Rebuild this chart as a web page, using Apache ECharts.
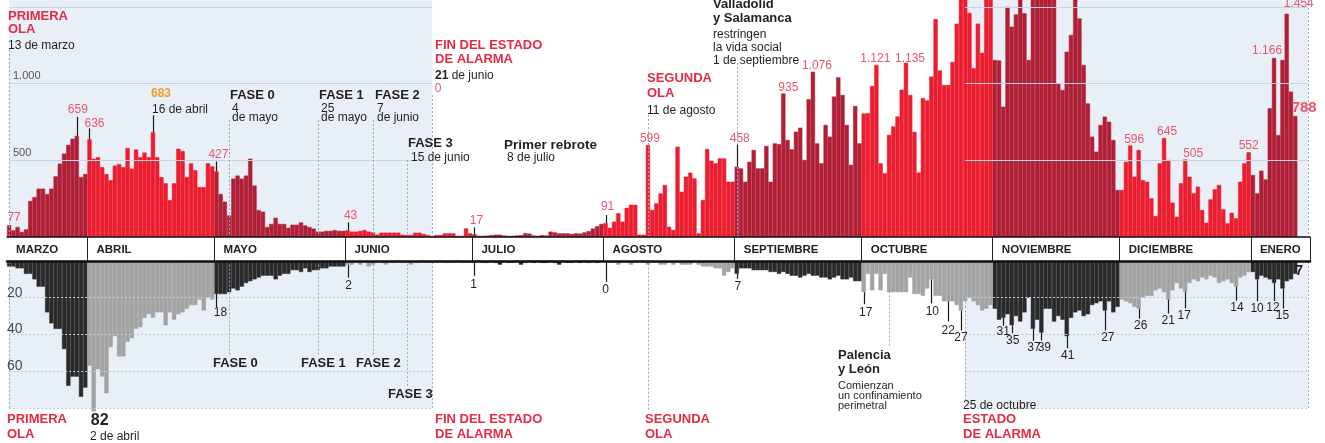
<!DOCTYPE html>
<html>
<head>
<meta charset="utf-8">
<script src="https://cdn.jsdelivr.net/npm/echarts@6/dist/echarts.min.js"></script>
<style>
html, body { margin: 0; background: #fff; }
#chart { width: 1325px; height: 443px; }
</style>
</head>
<body>
<div id="chart"></div>
<script>
// casos diarios (arriba) y fallecidos (abajo), 13 de marzo 2020 - 11 de enero 2021
const mesesNombre = ["MARZO", "ABRIL", "MAYO", "JUNIO", "JULIO", "AGOSTO", "SEPTIEMBRE", "OCTUBRE", "NOVIEMBRE", "DICIEMBRE", "ENERO"]
const mesesNum = [3, 4, 5, 6, 7, 8, 9, 10, 11, 12, 1]
const diaInicio = 13

const casosMar = [77, 43, 65, 33, 50, 235, 260, 315, 315, 280, 315, 395, 478, 543, 600, 640, 659, 390, 410]
const casosAbr = [636, 510, 520, 455, 410, 370, 465, 475, 455, 580, 445, 570, 520, 550, 520, 683, 520, 390, 350, 240, 350, 575, 560, 390, 480, 435, 325, 325, 480, 460]
const casosMay = [427, 280, 230, 140, 380, 400, 380, 400, 510, 335, 175, 165, 65, 85, 125, 85, 85, 60, 80, 80, 95, 75, 65, 55, 35, 35, 40, 40, 45, 40, 40]
const casosJun = [43, 35, 35, 40, 45, 35, 30, 15, 28, 28, 28, 28, 28, 15, 13, 13, 28, 28, 20, 13, 0, 13, 13, 24, 24, 24, 8, 8, 56, 24]
const casosJul = [17, 8, 8, 9, 12, 15, 15, 10, 8, 8, 10, 12, 25, 22, 10, 8, 12, 10, 35, 30, 24, 24, 24, 20, 24, 22, 30, 38, 55, 70, 85]
const casosAgo = [91, 60, 100, 155, 100, 190, 210, 210, 15, 15, 599, 176, 219, 284, 339, 67, 46, 588, 295, 393, 419, 382, 24, 241, 573, 497, 480, 512, 512, 360, 360]
const casosSep = [458, 447, 360, 490, 567, 447, 447, 593, 360, 610, 605, 935, 632, 571, 686, 712, 502, 897, 1076, 610, 480, 730, 654, 915, 1040, 925, 730, 470, 853, 610]
const casosOct = [805, 805, 983, 1121, 480, 415, 665, 720, 785, 960, 1135, 925, 685, 420, 905, 890, 1045, 1420, 1085, 990, 990, 1140, 1390, 1600, 1620, 1460, 1100, 1390, 1200, 1650, 1700]
const casosNov = [1153, 1150, 849, 1500, 1370, 1450, 1600, 1457, 1153, 1650, 1750, 1800, 1700, 1650, 1600, 1000, 958, 1207, 1316, 1600, 1424, 1120, 870, 654, 556, 730, 784, 751, 632, 306]
const casosDic = [306, 490, 596, 393, 567, 371, 360, 252, 137, 480, 645, 502, 224, 132, 350, 505, 393, 284, 328, 176, 93, 245, 311, 339, 180, 89, 158, 122, 360, 480, 552]
const casosEne = [404, 284, 432, 375, 838, 1166, 664, 1153, 1454, 947, 788]

const muertesMar = [3, 3, 4, 4, 7, 7, 10, 14, 14, 28, 34, 37, 37, 48, 68, 63, 63, 74, 69]
const muertesAbr = [57, 82, 59, 63, 72, 47, 41, 52, 52, 44, 42, 37, 36, 31, 29, 31, 28, 28, 35, 28, 32, 29, 28, 26, 24, 24, 21, 27, 20, 21]
const muertesMay = [18, 18, 18, 17, 15, 16, 14, 12, 11, 10, 9, 8, 8, 8, 10, 8, 7, 7, 5, 5, 6, 4, 6, 5, 5, 4, 4, 3, 3, 3, 3]
const muertesJun = [2, 2, 1, 2, 1, 3, 2, 1, 1, 2, 1, 1, 0, 1, 1, 2, 1, 1, 0, 1, 1, 1, 0, 1, 1, 1, 0, 1, 1, 1]
const muertesJul = [1, 0, 1, 1, 0, 1, 2, 0, 1, 1, 0, 2, 1, 0, 1, 0, 1, 1, 0, 1, 2, 0, 1, 1, 0, 1, 0, 1, 0, 1, 0]
const muertesAgo = [0, 1, 1, 2, 1, 1, 2, 1, 0, 1, 2, 1, 1, 2, 2, 1, 2, 1, 2, 2, 2, 1, 2, 3, 3, 3, 4, 4, 8, 6, 4]
const muertesSep = [7, 4, 4, 4, 5, 5, 5, 5, 6, 6, 7, 6, 7, 8, 8, 9, 8, 7, 8, 8, 9, 9, 10, 9, 8, 10, 10, 9, 11, 11]
const muertesOct = [17, 7, 16, 7, 16, 7, 17, 17, 17, 17, 17, 9, 18, 18, 19, 15, 10, 19, 19, 22, 22, 22, 24, 27, 22, 20, 22, 24, 27, 26, 24]
const muertesNov = [26, 32, 31, 29, 35, 30, 33, 28, 20, 37, 32, 39, 26, 26, 33, 30, 32, 41, 31, 28, 27, 30, 29, 24, 23, 22, 27, 22, 28, 25]
const muertesDic = [21, 22, 23, 25, 26, 20, 19, 19, 16, 15, 17, 21, 16, 12, 15, 17, 12, 10, 11, 9, 10, 8, 9, 12, 11, 10, 12, 14, 9, 8, 6]
const muertesEne = [6, 10, 8, 9, 10, 12, 10, 15, 11, 10, 7]

// fechas señaladas con su cifra
const marcasCasos = ["13/3", "29/3", "1/4", "16/4", "1/5", "1/6", "21/6", "1/7", "1/8", "11/8", "1/9", "12/9", "19/9", "4/10", "11/10", "3/12", "11/12", "16/12", "31/12", "6/1", "9/1", "11/1"]
const marcasMuertes = ["2/4", "1/5", "1/6", "1/7", "1/8", "1/9", "1/10", "17/10", "21/10", "24/10", "3/11", "5/11", "10/11", "12/11", "18/11", "27/11", "5/12", "12/12", "16/12", "28/12", "2/1", "6/1", "8/1", "11/1"]

// ---- layout of the marks: [line length, gap, dx, style]
const ajusteCasos = [[0, 3, 5], [19, 3, 1], [11, 1, 5], [17, 17, -2, "naranja"], [10, 3, 2], [8, 3, 3], [0, 144, 6], [7, 3, 2], [8, 4, 2], [0, 2, 2], [22, 2, 3], [0, 2, 5], [0, 2, 4], [0, 2, -1], [0, 0, 4], [0, 2, 4], [0, 2, 3], [0, 2, 8], [0, 3, 0], [0, 3, -7], [0, 6, 12], [0, 3, 9, "grande"]]
const ajusteMuertes = [[0, 3, 6, "grandeNegro"], [13, 2, 4], [13, 4, 1], [13, 5, -1], [21, 4, 0], [5, 4, 1], [12, 4, 2], [24, 4, 1], [20, 5, 0], [20, 3, 0], [8, 2, 0], [8, 3, 1], [12, 3, 1], [8, 3, 3], [12, 3, 1], [20, 3, 3], [10, 3, 2], [14, 3, 0], [16, 3, -1], [14, 3, 1], [22, 3, 0], [18, 3, -1], [20, 3, 0], [0, -8, 4, "negrita"]]

const F = '"Liberation Sans", Arial, sans-serif'
const ROJO = "#e52b43"
const ROSA = "#e9566b"
const TXT = "#231f20"

const casos = [casosMar, casosAbr, casosMay, casosJun, casosJul, casosAgo, casosSep, casosOct, casosNov, casosDic, casosEne]
const muertes = [muertesMar, muertesAbr, muertesMay, muertesJun, muertesJul, muertesAgo, muertesSep, muertesOct, muertesNov, muertesDic, muertesEne]

const fechas = []
const mesDe = []
const inicioMes = []
casos.forEach((arr, m) => {
	arr.forEach((_, k) => {
		fechas.push(((m === 0 ? diaInicio : 1) + k) + "/" + mesesNum[m])
		mesDe.push(m)
		inicioMes.push(k === 0)
	})
})
// a few empty days so the axis reaches the right border
for (let k = 1; k <= 3; k++) {
	fechas.push((casosEne.length + k) + "/1")
	mesDe.push(10)
	inicioMes.push(false)
}
const casosTodos = [].concat(...casos)
const muertesTodos = [].concat(...muertes)

const fmt = (v) => v >= 1000 ? Math.floor(v / 1000) + "." + String(v % 1000).padStart(3, "0") : String(v)

const estilos = {
	n: { font: "12px " + F, color: ROSA },
	naranja: { font: "bold 12px " + F, color: "#f29a2e", align: "left" },
	grande: { font: "bold 15px " + F, color: ROSA },
	negro: { font: "12px " + F, color: TXT },
	grandeNegro: { font: "bold 16px " + F, color: TXT },
	negrita: { font: "bold 14px " + F, color: TXT }
}

const porMes = (todos, par) => fechas.map((_, i) => (todos[i] === undefined || (mesDe[i] % 2 === 0) !== par) ? "-" : todos[i])

const marcaArriba = (params, api) => {
	const k = api.value(2)
	const [l, g, dx, est] = ajusteCasos[k]
	const s = estilos[est || "n"]
	const p = api.coord([api.value(0), api.value(1)])
	const x = Math.round(p[0]) + 0.5
	const ch = []
	if (l) ch.push({ type: "line", shape: { x1: x, y1: p[1], x2: x, y2: p[1] - l }, style: { stroke: "#1a1a1a", lineWidth: 1.2 } })
	ch.push({ type: "text", style: { text: fmt(api.value(1)), x: p[0] + dx, y: p[1] - l - g + 2, align: s.align || "center", verticalAlign: "bottom", font: s.font, fill: s.color } })
	return { type: "group", children: ch }
}
const marcaAbajo = (params, api) => {
	const k = api.value(2)
	const [l, g, dx, est] = ajusteMuertes[k]
	const s = estilos[est || "negro"]
	const p = api.coord([api.value(0), api.value(1)])
	const x = Math.round(p[0]) + 0.5
	const ch = []
	if (l) ch.push({ type: "line", shape: { x1: x, y1: p[1], x2: x, y2: p[1] + l }, style: { stroke: "#1a1a1a", lineWidth: 1.2 } })
	ch.push({ type: "text", style: { text: fmt(api.value(1)), x: p[0] + dx, y: p[1] + l + g - 2, align: s.align || "center", verticalAlign: "top", font: s.font, fill: s.color } })
	return { type: "group", children: ch }
}

// shaded periods of estado de alarma
const paneles = [["13/3", "21/6"], ["25/10", "14/1"]]
const lineasArriba = [["13/3", 1218], ["4/5", 762], ["25/5", 762], ["7/6", 762], ["15/6", 502], ["21/6", 925], ["11/8", 795], ["1/9", 1134], ["14/1", 1544]]
const lineasAbajo = [["13/3", 80], ["4/5", 51], ["25/5", 51], ["7/6", 51], ["15/6", 68], ["21/6", 80], ["11/8", 81], ["7/10", 46], ["25/10", 76], ["14/1", 80]]

const rejilla = (valores, estilo) => {
	const out = []
	valores.forEach((v) => paneles.forEach(([a, b]) => out.push([{ coord: [a, v], lineStyle: estilo }, { coord: [b, v] }])))
	return out
}
const verticales = (lista, estilo) => lista.map(([f, v]) => [{ coord: [f, v], lineStyle: estilo }, { coord: [f, 0] }])

const punteada = { color: "#8ea8cf", width: 1, type: [2, 2] }

// text helper: capTop is where the capitals start
const t = (x, capTop, text, size, opt = {}) => ({
	type: "text",
	x: x,
	y: capTop - 0.2 * size + 3,
	z: 50,
	silent: true,
	style: {
		text: text,
		font: (opt.bold ? "bold " : "") + size + "px " + F,
		fill: opt.color || TXT,
		verticalAlign: "top",
		rich: opt.rich
	}
})

const textos = [
	t(8, 10, "PRIMERA", 13, { bold: 1, color: ROJO }),
	t(8, 23, "OLA", 13, { bold: 1, color: ROJO }),
	t(8, 39, "13 de marzo", 12),
	t(152, 103, "16 de abril", 12),
	t(230, 89, "FASE 0", 13, { bold: 1 }),
	t(232, 102, "4", 12),
	t(232, 111, "de mayo", 12),
	t(319, 89, "FASE 1", 13, { bold: 1 }),
	t(321, 102, "25", 12),
	t(321, 111, "de mayo", 12),
	t(375, 89, "FASE 2", 13, { bold: 1 }),
	t(377, 102, "7", 12),
	t(377, 111, "de junio", 12),
	t(408, 137, "FASE 3", 13, { bold: 1 }),
	t(411, 151, "15 de junio", 12),
	t(435, 39, "FIN DEL ESTADO", 13, { bold: 1, color: ROJO }),
	t(435, 53, "DE ALARMA", 13, { bold: 1, color: ROJO }),
	t(435, 69, "{b|21} de junio", 12, { rich: { b: { font: "bold 12px " + F, fill: TXT } } }),
	t(504, 138, "Primer rebrote", 13.5, { bold: 1 }),
	t(507, 151, "8 de julio", 12),
	t(647, 72, "SEGUNDA", 13, { bold: 1, color: ROJO }),
	t(647, 87, "OLA", 13, { bold: 1, color: ROJO }),
	t(647, 104, "11 de agosto", 12),
	t(713, -2, "Valladolid", 13, { bold: 1 }),
	t(713, 12, "y Salamanca", 13, { bold: 1 }),
	t(713, 28, "restringen", 12),
	t(713, 41, "la vida social", 12),
	t(713, 54, "1 de septiembre", 12),

	t(213, 357, "FASE 0", 13, { bold: 1 }),
	t(301, 357, "FASE 1", 13, { bold: 1 }),
	t(356, 357, "FASE 2", 13, { bold: 1 }),
	t(388, 388, "FASE 3", 13, { bold: 1 }),
	t(7, 413, "PRIMERA", 13, { bold: 1, color: ROJO }),
	t(7, 428, "OLA", 13, { bold: 1, color: ROJO }),
	t(90, 430, "2 de abril", 12),
	t(435, 413, "FIN DEL ESTADO", 13, { bold: 1, color: ROJO }),
	t(435, 428, "DE ALARMA", 13, { bold: 1, color: ROJO }),
	t(645, 413, "SEGUNDA", 13, { bold: 1, color: ROJO }),
	t(645, 428, "OLA", 13, { bold: 1, color: ROJO }),
	t(838, 349, "Palencia", 13, { bold: 1 }),
	t(838, 363, "y León", 13, { bold: 1 }),
	t(838, 380, "Comienzan", 11),
	t(838, 390, "un confinamiento", 11),
	t(838, 400, "perimetral", 11),
	t(963, 399, "25 de octubre", 12),
	t(963, 413, "ESTADO", 13, { bold: 1, color: ROJO }),
	t(963, 428, "DE ALARMA", 13, { bold: 1, color: ROJO })
]

const chart = echarts.init(document.getElementById("chart"))

const option = {
	animation: false,
	backgroundColor: "#ffffff",
	textStyle: { fontFamily: F },
	grid: [
		{ left: 7, right: 15, top: 0, height: 237 },
		{ left: 7, right: 15, top: 261, height: 156 }
	],
	xAxis: [
		{
			type: "category",
			gridIndex: 0,
			data: fechas,
			boundaryGap: true,
			z: 10,
			axisLine: { lineStyle: { color: "#111", width: 1.5 } },
			axisTick: { show: false },
			axisLabel: { show: false }
		},
		{
			type: "category",
			gridIndex: 1,
			data: fechas,
			position: "top",
			boundaryGap: true,
			z: 10,
			axisLine: { lineStyle: { color: "#111", width: 2.5 } },
			axisTick: {
				show: true,
				interval: (i) => inicioMes[i] && i > 0,
				length: 24,
				lineStyle: { color: "#222", width: 1 }
			},
			axisLabel: {
				show: true,
				interval: (i) => inicioMes[i],
				formatter: (v, i) => mesesNombre[mesDe[i]],
				align: "left",
				padding: [0, 0, 0, 7],
				margin: 5,
				fontSize: 11.5,
				fontWeight: "bold",
				color: "#222"
			}
		}
	],
	yAxis: [
		{
			type: "value",
			gridIndex: 0,
			min: 0,
			max: 1544,
			interval: 500,
			z: 10,
			axisLine: { show: false },
			axisTick: { show: false },
			splitLine: { show: false },
			axisLabel: {
				inside: true,
				margin: 6,
				verticalAlign: "bottom",
				padding: [0, 0, 2, 0],
				fontSize: 11,
				color: "#555",
				formatter: (v) => v === 1000 ? "1.000" : v === 500 ? "500" : ""
			}
		},
		{
			type: "value",
			gridIndex: 1,
			min: 0,
			max: 85,
			interval: 20,
			inverse: true,
			z: 10,
			axisLine: { show: false },
			axisTick: { show: false },
			splitLine: { show: false },
			axisLabel: {
				inside: true,
				margin: 0,
				verticalAlign: "bottom",
				padding: [0, 0, -2, 0],
				fontSize: 14,
				color: "#4a4a4a",
				formatter: (v) => (v > 0 && v < 80) ? String(v) : ""
			}
		}
	],
	series: [
		{
			type: "line",
			xAxisIndex: 0,
			yAxisIndex: 0,
			data: [],
			silent: true,
			z: 1,
			markArea: {
				silent: true,
				itemStyle: { color: "#e9eff7" },
				data: paneles.map(([a, b]) => [{ xAxis: a }, { xAxis: b }])
			},
			markLine: {
				silent: true,
				symbol: ["none", "none"],
				label: { show: false },
				data: rejilla([500, 1000, 1500], { color: "#c6d3e7", width: 1, type: "solid" }).concat(verticales(lineasArriba, punteada))
			}
		},
		{
			type: "line",
			xAxisIndex: 1,
			yAxisIndex: 1,
			data: [],
			silent: true,
			z: 1,
			markArea: {
				silent: true,
				itemStyle: { color: "#e9eff7" },
				data: paneles.map(([a, b]) => [{ xAxis: a, yAxis: 0 }, { xAxis: b, yAxis: 80 }])
			},
			markLine: {
				silent: true,
				symbol: ["none", "none"],
				label: { show: false },
				data: rejilla([20, 40, 60, 80], { color: "#bccbe2", width: 1, type: [2, 2] }).concat(verticales(lineasAbajo, punteada))
			}
		},
		{
			name: "casos oscuro",
			type: "bar",
			xAxisIndex: 0,
			yAxisIndex: 0,
			z: 3,
			barCategoryGap: "0%",
			barGap: "-100%",
			itemStyle: { color: "#b01f35", borderColor: "#b01f35", borderWidth: 0.5 },
			data: porMes(casosTodos, true)
		},
		{
			name: "casos claro",
			type: "bar",
			xAxisIndex: 0,
			yAxisIndex: 0,
			z: 3,
			barCategoryGap: "0%",
			barGap: "-100%",
			itemStyle: { color: "#ec1d2f", borderColor: "#ec1d2f", borderWidth: 0.5 },
			data: porMes(casosTodos, false)
		},
		{
			name: "fallecidos oscuro",
			type: "bar",
			xAxisIndex: 1,
			yAxisIndex: 1,
			z: 3,
			barCategoryGap: "0%",
			barGap: "-100%",
			itemStyle: { color: "#2a2a2a", borderColor: "#2a2a2a", borderWidth: 0.5 },
			data: porMes(muertesTodos, true)
		},
		{
			name: "fallecidos claro",
			type: "bar",
			xAxisIndex: 1,
			yAxisIndex: 1,
			z: 3,
			barCategoryGap: "0%",
			barGap: "-100%",
			itemStyle: { color: "#a3a3a3", borderColor: "#a3a3a3", borderWidth: 0.5 },
			data: porMes(muertesTodos, false)
		},
		{
			type: "custom",
			xAxisIndex: 0,
			yAxisIndex: 0,
			z: 5,
			clip: false,
			silent: true,
			renderItem: marcaArriba,
			data: marcasCasos.map((f, k) => [fechas.indexOf(f), casosTodos[fechas.indexOf(f)], k])
		},
		{
			type: "custom",
			xAxisIndex: 1,
			yAxisIndex: 1,
			z: 5,
			clip: false,
			silent: true,
			renderItem: marcaAbajo,
			data: marcasMuertes.map((f, k) => [fechas.indexOf(f), muertesTodos[fechas.indexOf(f)], k])
		}
	],
	graphic: { elements: textos }
}
chart.setOption(option)
</script>
</body>
</html>
